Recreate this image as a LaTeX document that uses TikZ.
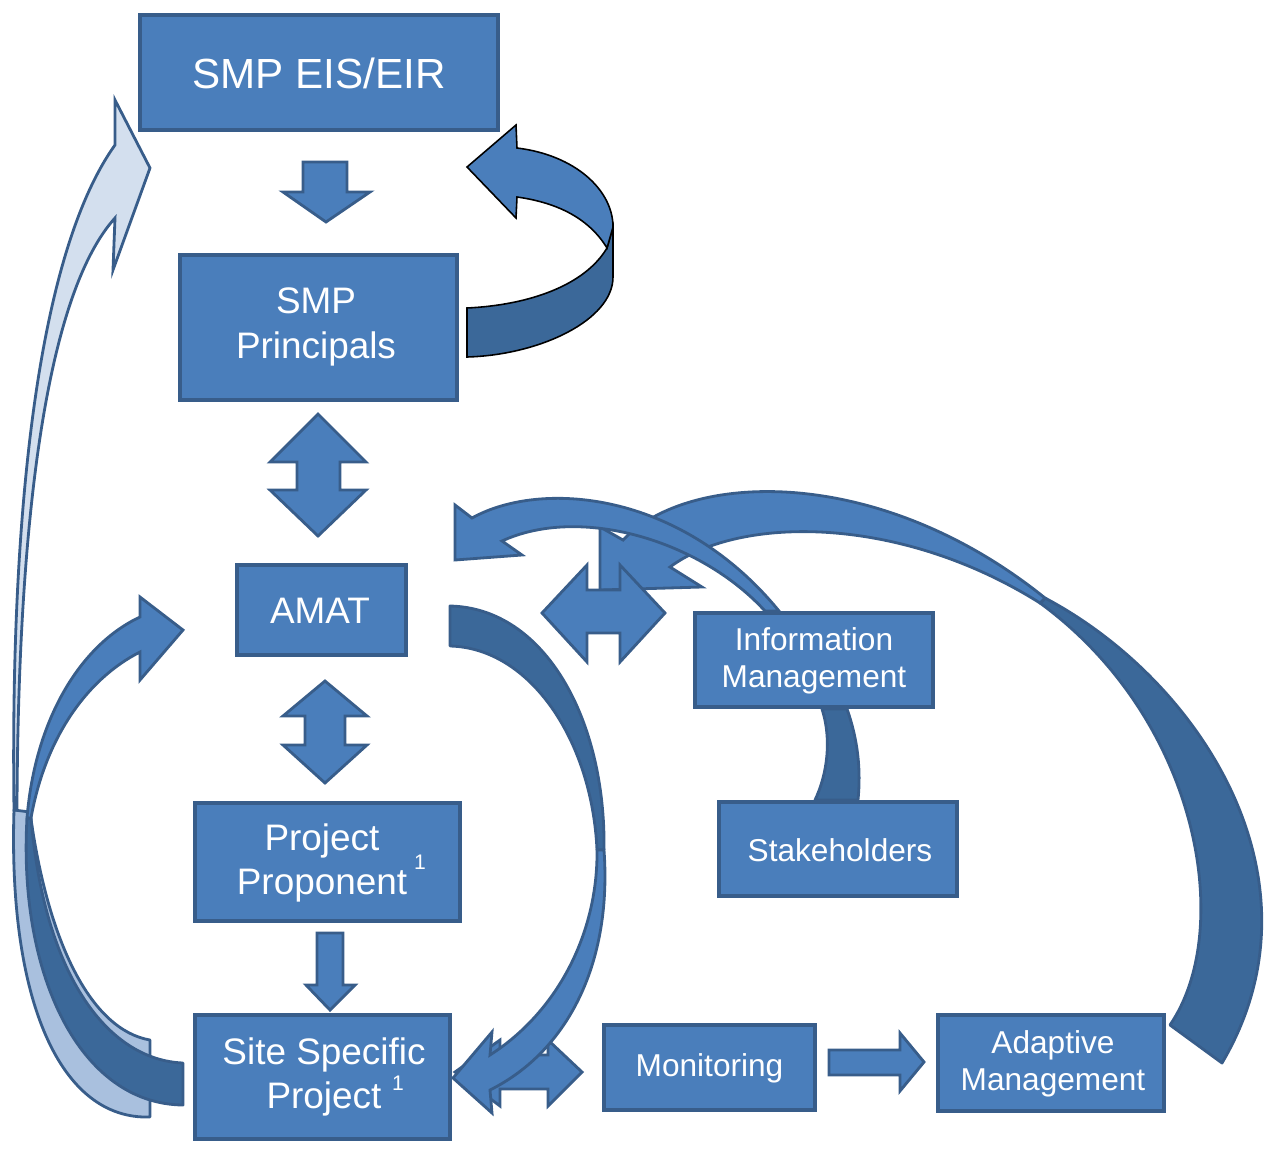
\documentclass[tikz,border=0pt]{standalone}
\usepackage{fontspec}
\setmainfont{Liberation Sans}
\definecolor{boxfill}{HTML}{4A7EBB}
\definecolor{boxline}{HTML}{385D8A}
\definecolor{darkfill}{HTML}{3B6899}
\definecolor{paleA}{HTML}{D3DFEE}
\definecolor{paleB}{HTML}{A9C0DE}
\begin{document}
\begin{tikzpicture}[x=0.02cm,y=-0.02cm,
  box/.style={draw=boxline, fill=boxfill, line width=2.2pt, inner sep=0pt},
  lbl/.style={text=white, align=center, inner sep=0pt},
  big/.style={font=\fontsize{24}{29}\selectfont},
  mid/.style={font=\fontsize{21}{25.5}\selectfont},
  sml/.style={font=\fontsize{18}{21}\selectfont},
  sup/.style={text=white, inner sep=0pt, font=\fontsize{12}{14}\selectfont},
  blk/.style={draw=boxline, fill=boxfill, line width=1.6pt, line join=miter},
  blkdark/.style={draw=boxline, fill=darkfill, line width=1.6pt, line join=round},
  paleface/.style={draw=boxline, fill=paleA, line width=1.6pt, line join=miter},
  paleback/.style={draw=boxline, fill=paleB, line width=1.6pt, line join=round},
  ribbon/.style={draw=black, line width=0.9pt, line join=miter}]
\useasboundingbox (0,0) rectangle (1267,1153);

% long pale arrow: Site Specific Project -> SMP EIS/EIR
\draw[paleback] (14,810) .. controls (8,1000) and (60,1120) .. (150,1117) -- (150,1040) .. controls (92,1030) and (48,945) .. (30,812) -- cycle;
\draw[paleface] (14,810) .. controls (10,500) and (40,250) .. (115,145) -- (115,100) -- (150,168) -- (113,270) -- (115,218) .. controls (50,290) and (18,500) .. (17,810) -- cycle;

% arrow: Site Specific Project -> AMAT
\draw[blkdark] (27,818) .. controls (18,975) and (80,1104) .. (183,1105) -- (183,1063) .. controls (110,1060) and (45,980) .. (31,818) -- cycle;
\draw[blk] (140,617) .. controls (80,645) and (35,720) .. (27,818) -- (31,818) .. controls (45,740) and (85,680) .. (140,652) -- (140,680) -- (183,630) -- (140,597) -- cycle;

% ribbon arrow: SMP Principals -> SMP EIS/EIR
\draw[ribbon, fill=darkfill] (467,308) .. controls (530,305) and (585,285) .. (607,248) -- (613,227) -- (613,277) .. controls (613,320) and (540,355) .. (467,357) -- cycle;
\draw[ribbon, fill=boxfill] (607,248) .. controls (590,220) and (560,203) .. (517,197) -- (516,218) -- (467,167) -- (516,125) -- (517,148) .. controls (575,155) and (613,190) .. (613,227) -- cycle;

% big arc: Adaptive Management -> top
\draw[blkdark] (1045,598) .. controls (1200,680) and (1330,880) .. (1222,1063) -- (1170,1025) .. controls (1235,930) and (1200,720) .. (1040,603) -- cycle;
\draw[blk] (623,540) .. controls (690,470) and (880,465) .. (1045,598) -- (1040,603) .. controls (900,515) and (740,515) .. (670,567) -- (702,587) -- (600,590) -- (600,527) -- cycle;

% arc: Information Management -> AMAT
\draw[blk] (472,518) .. controls (540,480) and (680,490) .. (779,611) -- (765,611) .. controls (700,540) and (580,505) .. (502,541) -- (522,555) -- (455,560) -- (455,505) -- cycle;

% double arrow AMAT <-> Information Management
\draw[blk] (542,613) -- (587,565) -- (587,590) -- (620,590) -- (620,565) -- (665,613) -- (620,662) -- (620,633) -- (587,633) -- (587,662) -- cycle;

% band Information Management - Stakeholders
\draw[blkdark] (822,709) .. controls (832,740) and (827,775) .. (815,800) -- (858,800) .. controls (861,770) and (858,740) .. (847,709) -- cycle;

% double arrow Site Specific Project <-> Monitoring
\draw[blk] (455,1072) -- (500,1040) -- (500,1055) -- (548,1055) -- (548,1040) -- (582,1072) -- (548,1106) -- (548,1089) -- (500,1089) -- (500,1106) -- cycle;

% arc: AMAT -> Site Specific Project
\draw[blkdark] (450,606) .. controls (545,608) and (606,720) .. (604,850) -- (597,850) .. controls (592,740) and (530,648) .. (450,646) -- cycle;
\draw[blk] (604,850) .. controls (612,960) and (570,1050) .. (490,1090) -- (492,1113) -- (453,1078) -- (492,1032) -- (490,1055) .. controls (560,1010) and (598,930) .. (597,850) -- cycle;

% straight block arrows
\draw[blk] (303,162) -- (347,162) -- (347,192) -- (370,192) -- (326,222) -- (283,192) -- (303,192) -- cycle;
\draw[blk] (318,414) -- (366,462) -- (340,462) -- (340,490) -- (366,490) -- (318,536) -- (270,490) -- (297,490) -- (297,462) -- (270,462) -- cycle;
\draw[blk] (325,681) -- (367,716) -- (345,716) -- (345,745) -- (367,745) -- (325,783) -- (283,745) -- (305,745) -- (305,716) -- (283,716) -- cycle;
\draw[blk] (317,933) -- (343,933) -- (343,985) -- (355,985) -- (330,1010) -- (306,985) -- (317,985) -- cycle;
\draw[blk] (829,1050) -- (900,1050) -- (900,1033) -- (924,1062) -- (900,1091) -- (900,1075) -- (829,1075) -- cycle;

% boxes
\node[box, minimum width=71.6mm, minimum height=23mm] (eis) at (319,72.5) {};
\node[lbl, big] (eist) at (319,73) {SMP EIS/EIR};
\node[box, minimum width=55.4mm, minimum height=29mm] (pri) at (318.5,327.5) {};
\node[lbl, mid] (prit) at (316,327) {SMP\\Principals};
\node[box, minimum width=33.8mm, minimum height=18mm] (amat) at (321.5,610) {};
\node[lbl, mid] (amatt) at (320,611) {AMAT};
\node[box, minimum width=53mm, minimum height=23.6mm] (pp) at (327.5,862) {};
\node[lbl, mid] (ppt) at (322,863) {Project\\Proponent};
\node[sup] (ppsup) at (420,862) {1};
\node[box, minimum width=51mm, minimum height=24.8mm] (ssp) at (322.5,1077) {};
\node[lbl, mid] (sspt) at (324,1077) {Site Specific\\Project};
\node[sup] (sspsup) at (398,1083) {1};
\node[box, minimum width=47.6mm, minimum height=18.8mm] (im) at (814,660) {};
\node[lbl, sml] (imt) at (814,661) {Information\\Management};
\node[box, minimum width=47.6mm, minimum height=18.8mm] (sh) at (838,849) {};
\node[lbl, sml] (sht) at (840,850) {Stakeholders};
\node[box, minimum width=42.2mm, minimum height=17mm] (mon) at (709.5,1067.5) {};
\node[lbl, sml] (mont) at (709.5,1068) {Monitoring};
\node[box, minimum width=45.2mm, minimum height=19.2mm] (am) at (1051,1063) {};
\node[lbl, sml] (amt) at (1053,1064) {Adaptive\\Management};
\end{tikzpicture}
\end{document}
